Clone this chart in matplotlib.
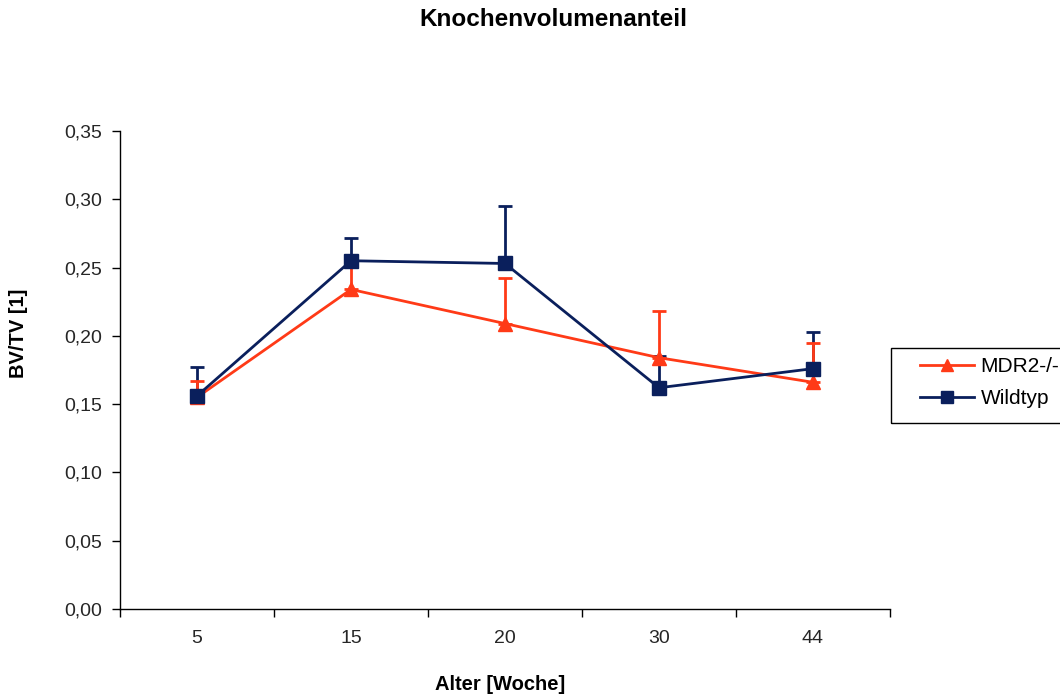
import numpy as np
import matplotlib
matplotlib.use('Agg')
import matplotlib.pyplot as plt
from matplotlib.patches import Rectangle
from matplotlib.ticker import FixedLocator, FuncFormatter

plt.rcParams['font.family'] = ['Liberation Sans', 'DejaVu Sans']

weeks = ['5', '15', '20', '30', '44']
mdr2_mean = [0.155, 0.234, 0.209, 0.184, 0.166]
mdr2_sd = [0.012, 0.019, 0.033, 0.034, 0.029]
wt_mean = [0.156, 0.255, 0.253, 0.162, 0.176]
wt_sd = [0.021, 0.017, 0.042, 0.023, 0.027]

RED = '#FF3A17'
NAVY = '#0A1F5C'
TXT = '#262626'

fig = plt.figure(figsize=(10.6, 6.98), dpi=100)
ax = fig.add_axes([120/1060, 1-609/698, 770/1060, 478/698])
x = np.arange(len(weeks))

# error bars only upward, as in the spreadsheet original
ax.errorbar(x, wt_mean, yerr=[np.zeros(5), wt_sd], fmt='none', ecolor=NAVY,
            elinewidth=2, capsize=5, capthick=2, zorder=2)
ax.errorbar(x, mdr2_mean, yerr=[np.zeros(5), mdr2_sd], fmt='none', ecolor=RED,
            elinewidth=2, capsize=5, capthick=2, zorder=3)
ax.plot(x, mdr2_mean, color=RED, lw=2, marker='^', ms=10, mec=RED, mfc=RED,
        zorder=4, label='MDR2-/-')
ax.plot(x, wt_mean, color=NAVY, lw=2, marker='s', ms=10, mec=NAVY, mfc=NAVY,
        zorder=5, label='Wildtyp')

ax.set_xlim(-0.5, len(weeks) - 0.5)
ax.set_ylim(0, 0.35)
ax.set_yticks(np.arange(0, 0.351, 0.05))
ax.yaxis.set_major_formatter(FuncFormatter(lambda v, p: f'{v:.2f}'.replace('.', ',')))
ax.set_xticks(x)
ax.set_xticklabels(weeks)
ax.xaxis.set_minor_locator(FixedLocator(np.arange(-0.5, len(weeks), 1.0)))
ax.tick_params(axis='x', which='major', length=0, pad=15, labelsize=14, labelcolor=TXT)
ax.tick_params(axis='x', which='minor', length=6, width=1, direction='out')
ax.tick_params(axis='y', length=6, width=1, direction='out', labelsize=14,
               labelcolor=TXT, pad=7)
for s in ['top', 'right']:
    ax.spines[s].set_visible(False)
for s in ['left', 'bottom']:
    ax.spines[s].set_linewidth(1)
    ax.spines[s].set_color('black')

fig.text(500/1060, 1-685/698, 'Alter [Woche]', ha='center', va='center',
         fontsize=14.5, fontweight='bold')
fig.text(19/1060, 1-333/698, 'BV/TV [1]', ha='center', va='center', rotation=90,
         fontsize=14.5, fontweight='bold')
fig.text(553/1060, 1-20/698, 'Knochenvolumenanteil', ha='center', va='center',
         fontsize=17.5, fontweight='bold')

# legend frame runs off the right edge of the figure
fig.patches.append(Rectangle((891/1060, 1-423/698), 200/1060, 75/698,
                             transform=fig.transFigure, fill=False,
                             edgecolor='black', lw=1))
fig.legend(loc='upper left', bbox_to_anchor=(920/1060, 1-357/698),
           fontsize=15, frameon=False, borderpad=0, borderaxespad=0,
           handlelength=2.6, handletextpad=0.3, labelspacing=0.62, markerscale=0.8)

fig.savefig('out.png', dpi=100)
